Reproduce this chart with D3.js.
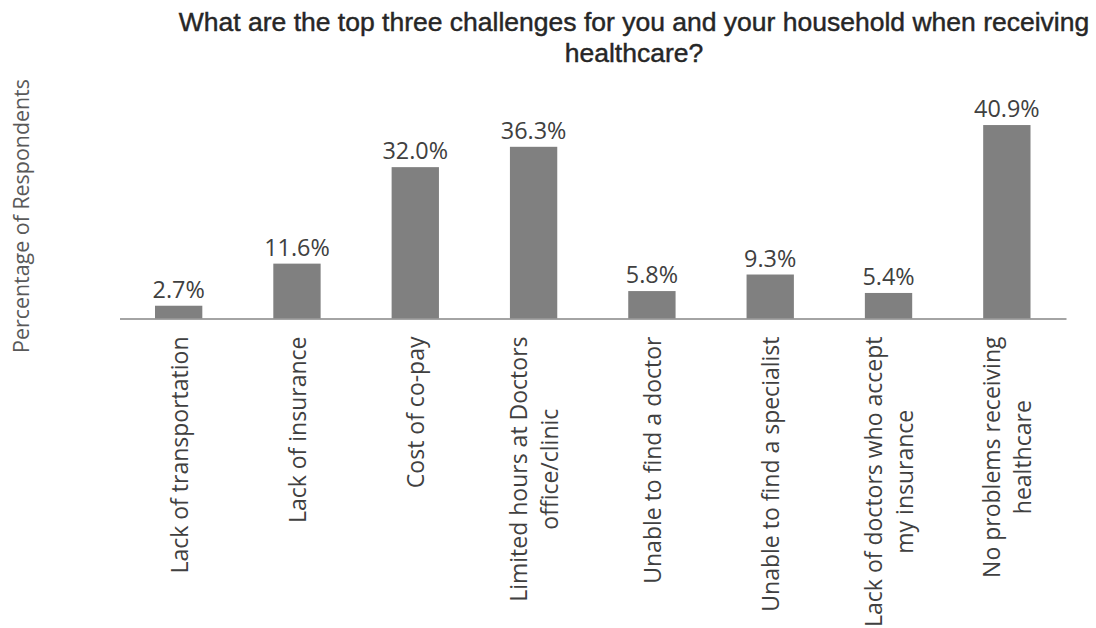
<!DOCTYPE html>
<html>
<head>
<meta charset="utf-8">
<script src="https://cdn.jsdelivr.net/npm/d3@7"></script>
<style>
  html, body { margin: 0; padding: 0; background: #ffffff; }
  svg { display: block; }
</style>
</head>
<body>
<svg id="chart" width="1096" height="628"></svg>
<script>
// Survey responses: share of respondents naming each healthcare challenge
const categories = [
  ["Lack of transportation"],
  ["Lack of insurance"],
  ["Cost of co-pay"],
  ["Limited hours at Doctors", "office/clinic"],
  ["Unable to find a doctor"],
  ["Unable to find a specialist"],
  ["Lack of doctors who accept", "my insurance"],
  ["No problems receiving", "healthcare"]
];
const values = [2.7, 11.6, 32.0, 36.3, 5.8, 9.3, 5.4, 40.9];
const titleLines = [
  "What are the top three challenges for you and your household when receiving",
  "healthcare?"
];
const yAxisTitle = "Percentage of Respondents";

const svg = d3.select("#chart");
const labelFont = "'Open Sans', 'Noto Sans', sans-serif";

const baseY = 318.5;
const x = d3.scaleBand()
  .domain(d3.range(categories.length))
  .range([119.5, 1066])
  .paddingInner(0.6)
  .paddingOuter(0.3);
const y = d3.scaleLinear().domain([0, 45]).range([baseY, baseY - 4.73 * 45]);

// Title
svg.append("text")
  .attr("x", 634).attr("y", 31)
  .attr("text-anchor", "middle")
  .style("font-family", "'Liberation Sans', Arial, sans-serif")
  .style("font-size", "26.5px")
  .style("fill", "#262626")
  .style("stroke", "#262626")
  .style("stroke-width", "0.45px")
  .selectAll("tspan").data(titleLines).join("tspan")
  .attr("x", 634)
  .attr("dy", (d, i) => i === 0 ? 0 : 31)
  .text(d => d);

// Y axis title
svg.append("text")
  .attr("transform", "translate(29,216) rotate(-90)")
  .attr("text-anchor", "middle")
  .style("font-family", labelFont)
  .style("font-size", "21.4px")
  .style("fill", "#595959")
  .text(yAxisTitle);

// Bars
svg.append("g").selectAll("rect").data(values).join("rect")
  .attr("x", (d, i) => x(i))
  .attr("width", x.bandwidth())
  .attr("y", d => y(d))
  .attr("height", d => y(0) - y(d))
  .attr("fill", "#808080");

// Baseline axis
const axis = d3.axisBottom(x).tickSize(0).tickFormat("");
svg.append("g")
  .attr("transform", `translate(0,${baseY})`)
  .call(axis)
  .call(g => g.select(".domain").attr("stroke", "#868686").attr("stroke-width", 1.5));

// Value labels
svg.append("g").selectAll("text").data(values).join("text")
  .attr("x", (d, i) => x(i) + x.bandwidth() / 2)
  .attr("y", d => y(d) - 8)
  .attr("text-anchor", "middle")
  .style("font-family", labelFont)
  .style("font-size", "23.4px")
  .style("fill", "#404040")
  .text(d => d.toFixed(1) + "%");

// Rotated category labels, lines centred on each other, block ending near the axis
const lineH = 31;
const catG = svg.append("g").selectAll("g").data(categories).join("g")
  .attr("transform", (d, i) => `translate(${x(i) + x.bandwidth() / 2},336.5) rotate(-90)`);
catG.each(function(lines) {
  const g = d3.select(this);
  const texts = g.selectAll("text").data(lines).join("text")
    .attr("text-anchor", "middle")
    .attr("dominant-baseline", "central")
    .attr("y", (d, i) => (i - (lines.length - 1) / 2) * lineH)
    .style("font-family", labelFont)
    .style("font-size", "23px")
    .style("fill", "#404040")
    .text(d => d);
  let maxW = 0;
  texts.each(function() { maxW = Math.max(maxW, this.getComputedTextLength()); });
  texts.attr("x", -maxW / 2);
});
</script>
</body>
</html>
